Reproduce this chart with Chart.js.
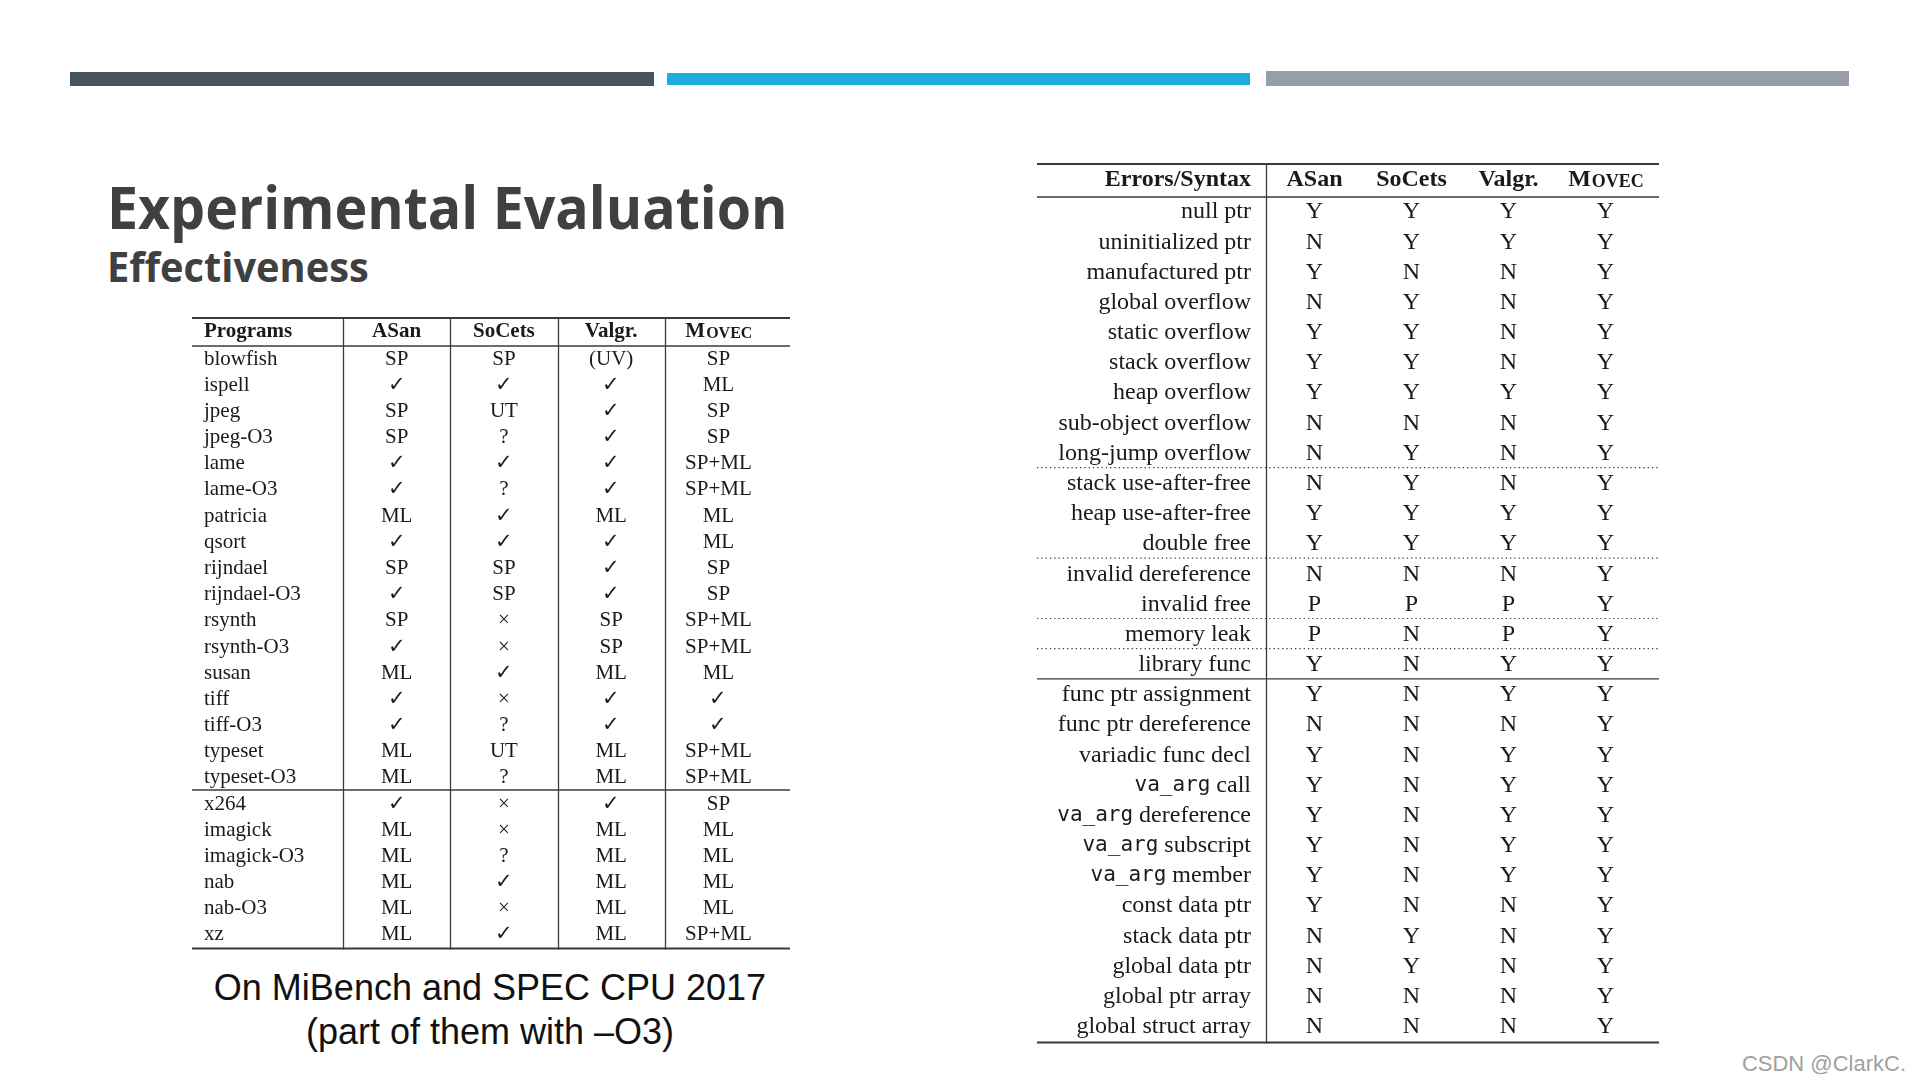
<!DOCTYPE html>
<html>
<head>
<meta charset="UTF-8">
<title>Experimental Evaluation</title>
<script src="https://cdn.jsdelivr.net/npm/chart.js@4.4.1/dist/chart.umd.min.js"></script>
<style>
    body { margin: 0; width: 1920px; height: 1080px; background: #fff; position: relative; overflow: hidden; }
    .bar { position: absolute; }
    #title { position: absolute; left: 107px; top: 177px; font-family: "Open Sans", sans-serif; font-weight: 700;
             font-size: 59px; line-height: 59px; color: #404040; white-space: nowrap;
             transform: scaleX(0.94); transform-origin: left top; }
    #subtitle { position: absolute; left: 107px; top: 246px; font-family: "Open Sans", sans-serif; font-weight: 700;
                font-size: 41px; line-height: 41px; color: #404040; white-space: nowrap;
                transform: scaleX(0.97); transform-origin: left top; }
    #caption { position: absolute; left: 140px; width: 700px; top: 966px; text-align: center;
               font-family: "Liberation Sans", Arial, sans-serif; font-size: 36px; line-height: 44px; color: #111; }
    #mark { position: absolute; right: 14px; top: 1051px; font-family: "Liberation Sans", Arial, sans-serif;
            font-size: 22px; color: #a0a0a0; }
    .box { position: absolute; }
</style>
</head>
<body>
<div class="bar" style="left:70px;top:72px;width:584px;height:14px;background:#47545c"></div>
<div class="bar" style="left:667px;top:73px;width:583px;height:12px;background:#1eade2"></div>
<div class="bar" style="left:1266px;top:71px;width:583px;height:15px;background:#989ea7"></div>

<div id="title">Experimental Evaluation</div>
<div id="subtitle">Effectiveness</div>

<div class="box" style="left:188px;top:314px;width:606px;height:640px"><canvas id="progChart"></canvas></div>
<div class="box" style="left:1033px;top:160px;width:630px;height:888px"><canvas id="errChart"></canvas></div>

<div id="caption">On MiBench and SPEC CPU 2017<br>(part of them with –O3)</div>
<div id="mark">CSDN @ClarkC.</div>

<script>
// ---- data: left table (MiBench / SPEC CPU 2017) ----
var tools = ['ASan', 'SoCets', 'Valgr.', 'Movec'];
var programs = ['blowfish', 'ispell', 'jpeg', 'jpeg-O3', 'lame', 'lame-O3', 'patricia', 'qsort',
    'rijndael', 'rijndael-O3', 'rsynth', 'rsynth-O3', 'susan', 'tiff', 'tiff-O3', 'typeset',
    'typeset-O3', 'x264', 'imagick', 'imagick-O3', 'nab', 'nab-O3', 'xz'];
var progAsan   = ['SP', '✓', 'SP', 'SP', '✓', '✓', 'ML', '✓', 'SP', '✓', 'SP', '✓', 'ML', '✓', '✓', 'ML', 'ML', '✓', 'ML', 'ML', 'ML', 'ML', 'ML'];
var progSocets = ['SP', '✓', 'UT', '?', '✓', '?', '✓', '✓', 'SP', 'SP', '×', '×', '✓', '×', '?', 'UT', '?', '×', '×', '?', '✓', '×', '✓'];
var progValgr  = ['(UV)', '✓', '✓', '✓', '✓', '✓', 'ML', '✓', '✓', '✓', 'SP', 'SP', 'ML', '✓', '✓', 'ML', 'ML', '✓', 'ML', 'ML', 'ML', 'ML', 'ML'];
var progMovec  = ['SP', 'ML', 'SP', 'SP', 'SP+ML', 'SP+ML', 'ML', 'ML', 'SP', 'SP', 'SP+ML', 'SP+ML', 'ML', '✓', '✓', 'SP+ML', 'SP+ML', 'SP', 'ML', 'ML', 'ML', 'ML', 'SP+ML'];
var progSolidAfter = ['typeset-O3'];

// ---- data: right table (errors / syntax) ----
var errors = ['null ptr', 'uninitialized ptr', 'manufactured ptr', 'global overflow', 'static overflow',
    'stack overflow', 'heap overflow', 'sub-object overflow', 'long-jump overflow', 'stack use-after-free',
    'heap use-after-free', 'double free', 'invalid dereference', 'invalid free', 'memory leak', 'library func',
    'func ptr assignment', 'func ptr dereference', 'variadic func decl', 'va_arg call', 'va_arg dereference',
    'va_arg subscript', 'va_arg member', 'const data ptr', 'stack data ptr', 'global data ptr',
    'global ptr array', 'global struct array'];
var errAsan   = ['Y','N','Y','N','Y','Y','Y','N','N','N','Y','Y','N','P','P','Y','Y','N','Y','Y','Y','Y','Y','Y','N','N','N','N'];
var errSocets = ['Y','Y','N','Y','Y','Y','Y','N','Y','Y','Y','Y','N','P','N','N','N','N','N','N','N','N','N','N','Y','Y','N','N'];
var errValgr  = ['Y','Y','N','N','N','N','Y','N','N','N','Y','Y','N','P','P','Y','Y','N','Y','Y','Y','Y','Y','N','N','N','N','N'];
var errMovec  = ['Y','Y','Y','Y','Y','Y','Y','Y','Y','Y','Y','Y','Y','Y','Y','Y','Y','Y','Y','Y','Y','Y','Y','Y','Y','Y','Y','Y'];
var errDottedAfter = ['long-jump overflow', 'double free', 'invalid free', 'memory leak'];
var errSolidAfter = ['library func'];

// draws the table text and rules from the scales / point elements
var tablePlugin = {
    id: 'tableText',
    afterDraw: function (chart, args, o) {
        var ctx = chart.ctx;
        var area = chart.chartArea;
        var xs = chart.scales.x, ys = chart.scales.y;
        var x0 = o.edge, x1 = chart.width - o.edge;
        var serif = "'Liberation Serif', 'DejaVu Serif', serif";
        var rowH = ys.getPixelForValue(1) - ys.getPixelForValue(0);
        ctx.save();
        ctx.fillStyle = '#1a1a1a';
        ctx.textBaseline = 'middle';

        // cells
        ctx.textAlign = 'center';
        ctx.font = o.size + 'px ' + serif;
        chart.data.datasets.forEach(function (ds, i) {
            chart.getDatasetMeta(i).data.forEach(function (el, j) {
                ctx.fillText(ds.data[j].v, el.x, el.y + 1);
            });
        });

        // row labels
        ys.getLabels().forEach(function (lab, i) {
            var y = ys.getPixelForValue(i) + 1;
            var x = o.labelAlign === 'left' ? o.labelX : area.left - o.labelGap;
            ctx.textAlign = o.labelAlign;
            if (lab.indexOf('va_arg') === 0) {
                var rest = lab.slice(6);
                ctx.font = o.size + 'px ' + serif;
                var wr = ctx.measureText(rest).width;
                ctx.fillText(rest, x, y);
                ctx.font = (o.size - 3) + "px 'DejaVu Sans Mono', monospace";
                ctx.fillText('va_arg', x - wr, y);
            } else {
                ctx.font = o.size + 'px ' + serif;
                ctx.fillText(lab, x, y);
            }
        });

        // header
        var hy = area.top - o.headH / 2;
        ctx.font = 'bold ' + o.size + 'px ' + serif;
        ctx.textAlign = o.labelAlign;
        ctx.fillText(o.corner, o.labelAlign === 'left' ? o.labelX : area.left - o.labelGap, hy);
        xs.getLabels().forEach(function (lab, i) {
            var x = xs.getPixelForValue(i);
            if (lab === 'Movec') {
                ctx.font = 'bold ' + o.size + 'px ' + serif;
                var wM = ctx.measureText('M').width;
                ctx.font = 'bold ' + Math.round(o.size * 0.74) + 'px ' + serif;
                var wS = ctx.measureText('OVEC').width;
                var sx = x - (wM + wS) / 2;
                ctx.textAlign = 'left';
                ctx.fillText('OVEC', sx + wM + 1, hy + 2);
                ctx.font = 'bold ' + o.size + 'px ' + serif;
                ctx.fillText('M', sx, hy);
            } else {
                ctx.textAlign = 'center';
                ctx.fillText(lab, x, hy);
            }
        });

        // rules
        ctx.strokeStyle = '#3a3a3a';
        function hline(y, w, dash) {
            ctx.beginPath();
            ctx.lineWidth = w;
            ctx.setLineDash(dash || []);
            ctx.moveTo(x0, y);
            ctx.lineTo(x1, y);
            ctx.stroke();
        }
        var topY = area.top - o.headH;
        hline(topY, 2);
        hline(area.top + 1, 1.4);
        hline(area.bottom + 1.5, 2);
        ys.getLabels().forEach(function (lab, i) {
            var y = ys.getPixelForValue(i) + rowH / 2;
            if (o.solidAfter.indexOf(lab) >= 0) hline(y, 1.4);
            if (o.dottedAfter.indexOf(lab) >= 0) hline(y, 1.2, [1.3, 3]);
        });
        ctx.setLineDash([]);
        ctx.lineWidth = 1.3;
        var vx = [area.left + o.vOffset];
        if (o.allColumns) {
            for (var k = 1; k < xs.getLabels().length; k++) {
                vx.push((xs.getPixelForValue(k - 1) + xs.getPixelForValue(k)) / 2);
            }
        }
        vx.forEach(function (x) {
            ctx.beginPath();
            ctx.moveTo(Math.round(x) + 0.5, topY);
            ctx.lineTo(Math.round(x) + 0.5, area.bottom + 2.5);
            ctx.stroke();
        });
        ctx.restore();
    }
};

function makeTable(id, rows, cols, padding, opts) {
    var datasets = cols.map(function (col, c) {
        return {
            data: rows.map(function (r, j) { return { x: tools[c], y: r, v: col[j] }; }),
            pointRadius: 0,
            pointHoverRadius: 0
        };
    });
    return new Chart(document.getElementById(id), {
        type: 'scatter',
        data: { datasets: datasets },
        options: {
            responsive: true,
            maintainAspectRatio: false,
            animation: false,
            events: [],
            layout: { padding: padding },
            plugins: { legend: { display: false }, tooltip: { enabled: false }, tableText: opts },
            scales: {
                x: { type: 'category', labels: tools, offset: true, display: false },
                y: { type: 'category', labels: rows, offset: true, display: false }
            }
        },
        plugins: [tablePlugin]
    });
}

makeTable('progChart', programs, [progAsan, progSocets, progValgr, progMovec],
    { left: 155, right: 22, top: 31, bottom: 7 },
    { edge: 4, size: 21, headH: 27, labelAlign: 'left', labelX: 16, labelGap: 0, corner: 'Programs',
      solidAfter: progSolidAfter, dottedAfter: [], allColumns: true, vOffset: 0 });

makeTable('errChart', errors, [errAsan, errSocets, errValgr, errMovec],
    { left: 233, right: 9, top: 36, bottom: 7 },
    { edge: 4, size: 24, headH: 32, labelAlign: 'right', labelX: 0, labelGap: 15, corner: 'Errors/Syntax',
      solidAfter: errSolidAfter, dottedAfter: errDottedAfter, allColumns: false, vOffset: 0 });
</script>
</body>
</html>
